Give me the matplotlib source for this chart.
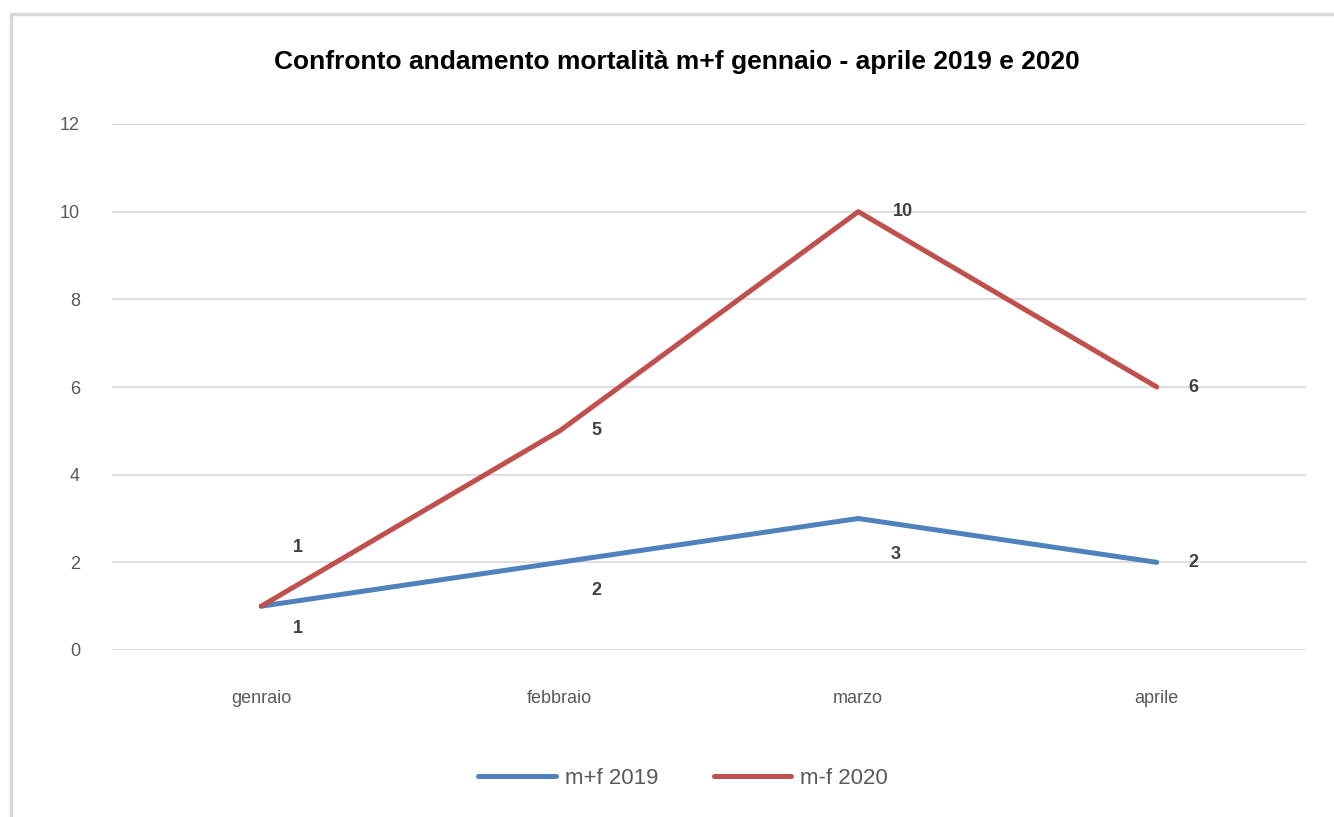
import numpy as np
import matplotlib.pyplot as plt
import matplotlib.patches as mpatches

# data
months = ["genraio", "febbraio", "marzo", "aprile"]
mf_2019 = [1, 2, 3, 2]
mf_2020 = [1, 5, 10, 6]
series_names = ["m+f 2019", "m-f 2020"]

BLUE = "#4F81BD"
RED = "#C0504D"
GRID = "#D9D9D9"
TXT = "#595959"

plt.rcParams.update({
    "font.family": ["Liberation Sans", "DejaVu Sans"],
})

fig = plt.figure(figsize=(13.34, 8.17), dpi=100)
ax = fig.add_axes([112 / 1334, 1 - 650 / 817, (1306 - 112) / 1334, (650 - 124) / 817])

x = np.arange(len(months))
ax.plot(x, mf_2019, color=BLUE, lw=3.6, label=series_names[0], solid_capstyle="round", zorder=3)
ax.plot(x, mf_2020, color=RED, lw=3.6, label=series_names[1], solid_capstyle="round", zorder=3)

ax.set_xlim(-0.5, len(months) - 0.5)
ax.set_ylim(0, 12)
ax.set_yticks(range(0, 13, 2))
ax.set_xticks(x)
ax.set_xticklabels(months)
ax.yaxis.grid(True, color=GRID, lw=1.2, zorder=0)
for s in ax.spines.values():
    s.set_visible(False)
ax.tick_params(length=0, labelsize=13, colors=TXT)
ax.tick_params(axis="x", pad=29)
ax.tick_params(axis="y", pad=23)

# data labels (offset in points)
off_2019 = [(23, -16), (23, -20), (23, -26), (23, 0)]
off_2020 = [(23, 42), (23, 0), (25, 0), (23, 0)]
for xi, v, o in zip(x, mf_2019, off_2019):
    ax.annotate(str(v), (xi, v), xytext=o, textcoords="offset points",
                ha="left", va="center", fontsize=13, fontweight="bold", color="#404040")
for xi, v, o in zip(x, mf_2020, off_2020):
    ax.annotate(str(v), (xi, v), xytext=o, textcoords="offset points",
                ha="left", va="center", fontsize=13, fontweight="bold", color="#404040")

fig.text(677 / 1334, 1 - 62 / 817,
         "Confronto andamento mortalità m+f gennaio - aprile 2019 e 2020",
         ha="center", va="center", fontsize=19, fontweight="bold", color="black")

fig.legend(loc="center", bbox_to_anchor=(683 / 1334, 1 - 778 / 817), ncol=2,
           frameon=False, fontsize=16, labelcolor=TXT, handlelength=3.5,
           columnspacing=2.5, handletextpad=0.4)

# chart area frame
frame = mpatches.Rectangle((11 / 1334, -0.1), 1.2, 1.1 - 14 / 817,
                           transform=fig.transFigure, fill=False,
                           edgecolor=GRID, lw=2.5)
fig.patches.append(frame)

fig.savefig("out.png", dpi=100)
